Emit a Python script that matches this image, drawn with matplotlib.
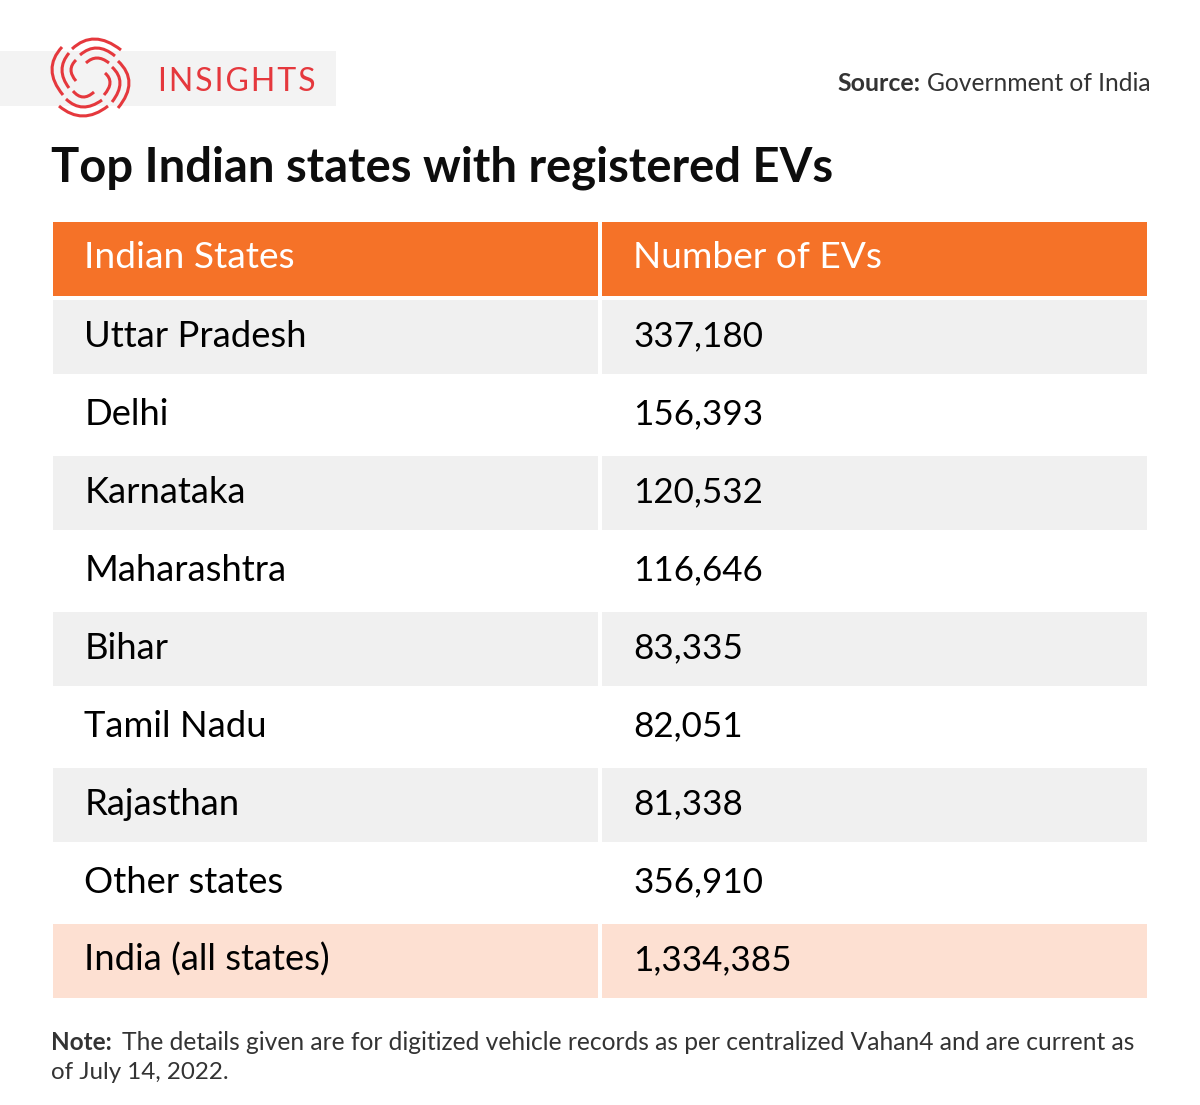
import matplotlib.pyplot as plt
from matplotlib.patches import PathPatch, Rectangle
from matplotlib.path import Path

plt.rcParams['font.family'] = ['Lato', 'DejaVu Sans']

# table content
headers = ["Indian States", "Number of EVs"]
states = ["Uttar Pradesh", "Delhi", "Karnataka", "Maharashtra", "Bihar",
          "Tamil Nadu", "Rajasthan", "Other states", "India (all states)"]
ev_counts = [337180, 156393, 120532, 116646, 83335, 82051, 81338, 356910, 1334385]

title = "Top Indian states with registered EVs"
note_line1 = "The details given are for digitized vehicle records as per centralized Vahan4 and are current as"
note_line2 = "of July 14, 2022."

ORANGE = "#f57228"
GREY = "#f0f0f0"
PEACH = "#fde0d2"
RED = "#e5383d"

# logo arcs as (start, middle, end) in pixels
logo_arcs = [
    ((62, 47), (52, 70), (63, 95)), ((72, 49), (95, 39), (121, 50)),
    ((118, 61), (129, 83), (118, 108)), ((108, 106), (83, 116), (59, 106)),
    ((69, 53), (62, 70), (69, 88)), ((80, 55), (97, 48), (115, 56)),
    ((112, 67), (120, 83), (112, 102)), ((102, 100), (83, 107), (66, 99)),
    ((76, 60), (71, 70), (76, 81)), ((86, 63), (97, 58), (109, 63)),
    ((105, 73), (110, 83), (104, 95)), ((94, 92), (83, 97), (73, 91)),
]

fig = plt.figure(figsize=(12, 11.05), dpi=100)
ax = fig.add_axes([0, 0, 1, 1])
ax.set_xlim(0, 1200)
ax.set_ylim(1105, 0)
ax.axis("off")

# logo band
ax.add_patch(Rectangle((0, 51), 336, 55, fc="#f3f3f3", ec="none"))
for a, m, b in logo_arcs:
    ctrl = (2 * m[0] - (a[0] + b[0]) / 2, 2 * m[1] - (a[1] + b[1]) / 2)
    path = Path([a, ctrl, b], [Path.MOVETO, Path.CURVE3, Path.CURVE3])
    ax.add_patch(PathPatch(path, fc="none", ec=RED, lw=2.2, capstyle="butt"))
ax.text(157.5, 91, "I N S I G H T S".replace(" ", "\u200a"), color=RED, fontsize=23, va="baseline")

ax.text(837, 91, "Source:", fontsize=17.9, fontweight="bold", color="#333333", va="baseline")
ax.text(927, 91, "Government of India", fontsize=17.75, color="#333333", va="baseline")

ax.text(51, 182, title, fontsize=33.9, fontweight="bold", color="#0d0d0d", va="baseline")

# table
col_x = [53, 602]
col_w = [545, 545]
text_x = [84.5, 633]
row_size = [26.2, 25.2]
baseline = [47, 46]
row_h = 74
row_step = 78
top = 222
rows = list(zip(states, [f"{v:,}" for v in ev_counts]))

for c in range(2):
    ax.add_patch(Rectangle((col_x[c], top), col_w[c], row_h, fc=ORANGE, ec="none"))
    ax.text(text_x[c], top + 46.5, headers[c], color="white", fontsize=26.7, va="baseline")
    for r, row in enumerate(rows):
        y = top + row_step * (r + 1)
        if r == len(rows) - 1:
            ax.add_patch(Rectangle((col_x[c], y), col_w[c], row_h, fc=PEACH, ec="none"))
        elif r % 2 == 0:
            ax.add_patch(Rectangle((col_x[c], y), col_w[c], row_h, fc=GREY, ec="none"))
        ax.text(text_x[c], y + baseline[c], row[c], color="black", fontsize=row_size[c], va="baseline")

# note
ax.text(51, 1050, "Note:", fontsize=17.5, fontweight="bold", color="#333333", va="baseline")
ax.text(122, 1050, note_line1, fontsize=17.7, color="#333333", va="baseline")
ax.text(51, 1079, note_line2, fontsize=17.4, color="#333333", va="baseline")

fig.savefig("out.png", dpi=100)
